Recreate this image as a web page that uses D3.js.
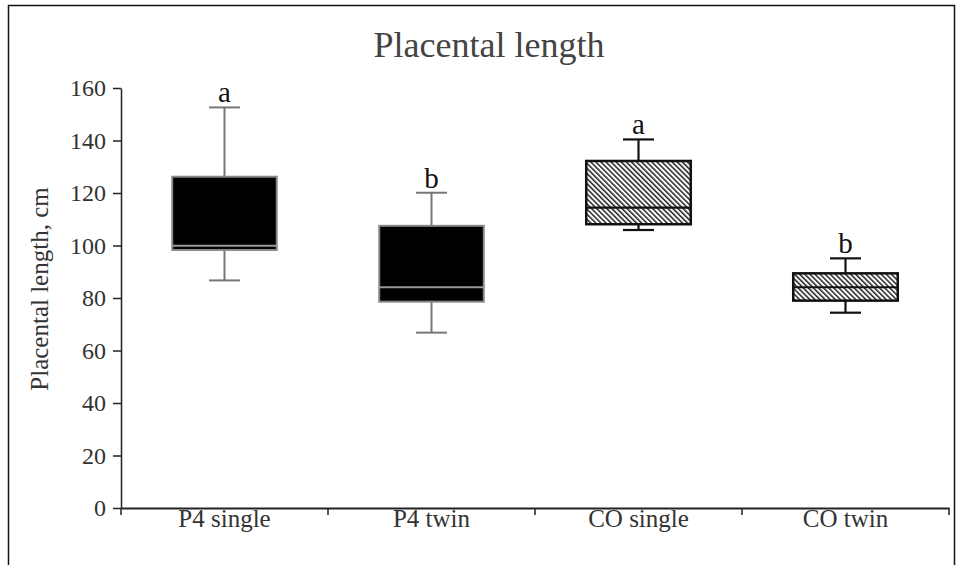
<!DOCTYPE html>
<html><head><meta charset="utf-8">
<script src="https://cdn.jsdelivr.net/npm/d3@7/dist/d3.min.js"></script>
<style>body{margin:0;background:#fff}svg{display:block}</style>
</head><body>
<svg id="c" width="958" height="565"></svg>
<script>
const categories = ["P4 single", "P4 twin", "CO single", "CO twin"];
const whiskerLow  = [86.7, 66.8, 105.9, 74.4];
const q1          = [98.3, 78.6, 108.1, 79.0];
const median      = [99.9, 84.1, 114.4, 84.1];
const q3          = [126.2, 107.5, 132.2, 89.4];
const whiskerHigh = [152.6, 120.1, 140.4, 95.1];
const letters     = ["a", "b", "a", "b"];
const fillStyle   = ["solid", "solid", "hatch", "hatch"];
const yTicks      = [0, 20, 40, 60, 80, 100, 120, 140, 160];

const svg = d3.select("#c");
const font = "'Liberation Serif','Times New Roman',serif";

// hatch pattern
const defs = svg.append("defs");
const pat = defs.append("pattern").attr("id","hatch").attr("patternUnits","userSpaceOnUse")
  .attr("width",3.6).attr("height",3.6).attr("patternTransform","rotate(-45)");
pat.append("rect").attr("width",3.6).attr("height",3.6).attr("fill","#fff");
pat.append("rect").attr("x",0).attr("width",1.5).attr("height",3.6).attr("fill","#222");

// frame
svg.append("rect").attr("x",8.5).attr("y",5.5).attr("width",946).attr("height",600)
  .attr("fill","none").attr("stroke","#111").attr("stroke-width",1.5);

const x = d3.scaleBand().domain(categories).range([121, 949]).paddingInner(0).paddingOuter(0);
const y = d3.scaleLinear().domain([0,160]).range([508, 88]);

// title
svg.append("text").attr("x",489).attr("y",57).attr("text-anchor","middle")
  .attr("font-family",font).attr("font-size",36).attr("fill","#444").text("Placental length");

// y axis
const ya = svg.append("g").attr("transform","translate(121,0)")
  .call(d3.axisLeft(y).tickValues(yTicks).tickSize(8).tickSizeOuter(0).tickPadding(7));
ya.select(".domain").attr("stroke","#222").attr("stroke-width",1.5);
ya.selectAll(".tick line").attr("stroke","#222").attr("stroke-width",1.5);
ya.selectAll(".tick text").attr("font-family",font).attr("font-size",24).attr("fill","#333");

// x axis
const xa = svg.append("g").attr("transform","translate(0,508)")
  .call(d3.axisBottom(x).tickSize(0).tickSizeOuter(0).tickPadding(1));
xa.select(".domain").attr("stroke","#222").attr("stroke-width",2);
xa.selectAll(".tick text").attr("font-family",font).attr("font-size",25).attr("fill","#333");
// x ticks at band boundaries
const bounds = categories.map(c => x(c)).concat([x.range()[1]]);
xa.selectAll(".bt").data(bounds).enter().append("line").attr("class","bt")
  .attr("x1",d=>d).attr("x2",d=>d).attr("y1",0).attr("y2",7)
  .attr("stroke","#222").attr("stroke-width",1.5);

// y label
svg.append("text").attr("transform","translate(48,289) rotate(-90)").attr("text-anchor","middle")
  .attr("font-family",font).attr("font-size",25).attr("fill","#333").text("Placental length,  cm");

// boxes
const boxW = x.bandwidth()*0.505, capW = 31;
categories.forEach((c,i) => {
  const cx = x(c) + x.bandwidth()/2;
  const solid = fillStyle[i] === "solid";
  const lc = solid ? "#777" : "#111";
  const lw = solid ? 2 : 2.2;
  const g = svg.append("g");
  g.append("line").attr("x1",cx).attr("x2",cx).attr("y1",y(whiskerHigh[i])).attr("y2",y(q3[i]))
    .attr("stroke",lc).attr("stroke-width",lw);
  g.append("line").attr("x1",cx).attr("x2",cx).attr("y1",y(q1[i])).attr("y2",y(whiskerLow[i]))
    .attr("stroke",lc).attr("stroke-width",lw);
  g.append("line").attr("x1",cx-capW/2).attr("x2",cx+capW/2).attr("y1",y(whiskerHigh[i])).attr("y2",y(whiskerHigh[i]))
    .attr("stroke",lc).attr("stroke-width",lw);
  g.append("line").attr("x1",cx-capW/2).attr("x2",cx+capW/2).attr("y1",y(whiskerLow[i])).attr("y2",y(whiskerLow[i]))
    .attr("stroke",lc).attr("stroke-width",lw);
  g.append("rect").attr("x",cx-boxW/2).attr("width",boxW)
    .attr("y",y(q3[i])).attr("height",y(q1[i])-y(q3[i]))
    .attr("fill", solid ? "#000" : "url(#hatch)")
    .attr("stroke", solid ? "#888" : "#111").attr("stroke-width", solid ? 2 : 2.5);
  g.append("line").attr("x1",cx-boxW/2).attr("x2",cx+boxW/2).attr("y1",y(median[i])).attr("y2",y(median[i]))
    .attr("stroke", solid ? "#999" : "#111").attr("stroke-width", solid ? 2 : 2.2);
  g.append("text").attr("x",cx).attr("y",y(whiskerHigh[i])-5).attr("text-anchor","middle")
    .attr("font-family",font).attr("font-size",29).attr("fill","#111").text(letters[i]);
});
</script>
</body></html>
